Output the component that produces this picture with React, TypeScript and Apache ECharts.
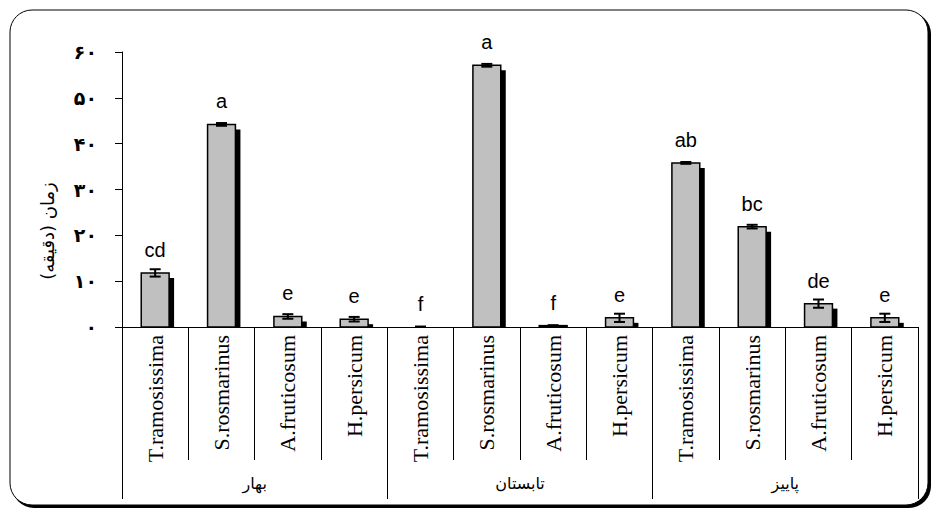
import React, { useEffect, useRef } from 'react';
import * as echarts from 'echarts';

const categories = [
  'T.ramosissima', 'S.rosmarinus', 'A.fruticosum', 'H.persicum',
  'T.ramosissima', 'S.rosmarinus', 'A.fruticosum', 'H.persicum',
  'T.ramosissima', 'S.rosmarinus', 'A.fruticosum', 'H.persicum',
];
const seasons = ['بهار', 'تابستان', 'پاییز'];
const values = [11.8, 44.2, 2.3, 1.7, 0, 57.1, 0.3, 2.0, 35.8, 21.9, 5.1, 2.0];
const errors = [0.8, 0.3, 0.5, 0.5, 0.1, 0.3, 0.1, 0.9, 0.2, 0.4, 0.9, 0.9];
const letters = ['cd', 'a', 'e', 'e', 'f', 'a', 'f', 'e', 'ab', 'bc', 'de', 'e'];
const yTickLabels = ['۰', '۱۰', '۲۰', '۳۰', '۴۰', '۵۰', '۶۰'];
const yAxisName = 'زمان (دقیقه)';

export default function App() {
  const ref = useRef<HTMLDivElement>(null);
  useEffect(() => {
    if (!ref.current) return;
    const chart = echarts.init(ref.current, null, { renderer: 'svg' });
    const data = values.map((v, i) => [i, v, errors[i]]);
    chart.setOption({
      animation: false,
      backgroundColor: '#fff',
      graphic: [
        { type: 'rect', z: -10, shape: { x: 12, y: 12, width: 919, height: 496, r: 22 }, style: { fill: '#000' } },
        { type: 'rect', z: -9, shape: { x: 10, y: 10, width: 918, height: 495, r: 22 }, style: { fill: '#fff', stroke: '#000', lineWidth: 1 } },
        {
          type: 'text',
          z: 5,
          x: 47,
          y: 231,
          rotation: Math.PI / 2,
          style: {
            text: yAxisName,
            align: 'center',
            verticalAlign: 'middle',
            fontFamily: 'DejaVu Sans',
            fontSize: 18,
            fill: '#000',
          },
        },
      ],
      grid: { left: 122, right: 15, top: 52, bottom: 184 },
      xAxis: [
        {
          type: 'category',
          data: categories,
          boundaryGap: true,
          axisLine: { show: true, lineStyle: { color: '#000', width: 1 } },
          axisTick: { show: true, interval: 0, length: 133, lineStyle: { color: '#000', width: 1 } },
          axisLabel: { interval: 0, rotate: 90, margin: 8, color: '#000', fontFamily: 'Liberation Serif', fontSize: 22 },
        },
        {
          type: 'category',
          data: seasons,
          position: 'bottom',
          boundaryGap: true,
          axisLine: { show: false },
          axisTick: { show: true, interval: 0, length: 172, lineStyle: { color: '#000', width: 1 } },
          axisLabel: { interval: 0, margin: 148, color: '#000', fontFamily: 'DejaVu Sans', fontSize: 16 },
        },
      ],
      yAxis: {
        type: 'value',
        min: 0,
        max: 60,
        interval: 10,
        axisLine: { show: true, lineStyle: { color: '#000', width: 1 } },
        axisTick: { show: true, length: 7, lineStyle: { color: '#000' } },
        splitLine: { show: false },
        axisLabel: {
          formatter: (v: number) => yTickLabels[Math.round(v / 10)] ?? '',
          color: '#000',
          fontWeight: 'bold',
          fontFamily: 'DejaVu Sans',
          fontSize: 19,
          margin: 25,
        },
      },
      series: [
        {
          type: 'custom',
          xAxisIndex: 0,
          yAxisIndex: 0,
          encode: { x: 0, y: 1 },
          data,
          renderItem: (params: any, api: any) => {
            const idx = api.value(0);
            const val = api.value(1);
            const err = api.value(2);
            const base = api.coord([idx, 0]);
            const top = api.coord([idx, val]);
            const bw = api.size([1, 0])[0] * 0.42;
            const cx = base[0];
            const x0 = cx - bw / 2;
            const h = base[1] - top[1];
            const children: any[] = [];
            if (val > 0) {
              const sh = h - 5;
              if (sh > 0) {
                children.push({ type: 'rect', shape: { x: x0 + 5, y: top[1] + 5, width: bw, height: sh }, style: { fill: '#000' } });
              }
              children.push({ type: 'rect', shape: { x: x0, y: top[1], width: bw, height: h }, style: { fill: '#c0c0c0', stroke: '#000', lineWidth: 1.5 } });
            }
            const eTop = api.coord([idx, val + err])[1];
            const eBot = api.coord([idx, Math.max(0, val - err)])[1];
            const cw = 5.5;
            children.push({ type: 'line', shape: { x1: cx, y1: eTop, x2: cx, y2: eBot }, style: { stroke: '#000', lineWidth: 2 } });
            children.push({ type: 'line', shape: { x1: cx - cw, y1: eTop, x2: cx + cw, y2: eTop }, style: { stroke: '#000', lineWidth: 2 } });
            children.push({ type: 'line', shape: { x1: cx - cw, y1: eBot, x2: cx + cw, y2: eBot }, style: { stroke: '#000', lineWidth: 2 } });
            children.push({
              type: 'text',
              style: {
                text: letters[params.dataIndex],
                x: cx,
                y: top[1] - 23,
                align: 'center',
                verticalAlign: 'middle',
                fontFamily: 'Liberation Sans',
                fontSize: 20,
                fill: '#000',
              },
            });
            return { type: 'group', children };
          },
        },
      ],
    });
    return () => chart.dispose();
  }, []);
  return <div ref={ref} style={{ position: 'absolute', left: 0, top: 0, width: 933, height: 511 }} />;
}
